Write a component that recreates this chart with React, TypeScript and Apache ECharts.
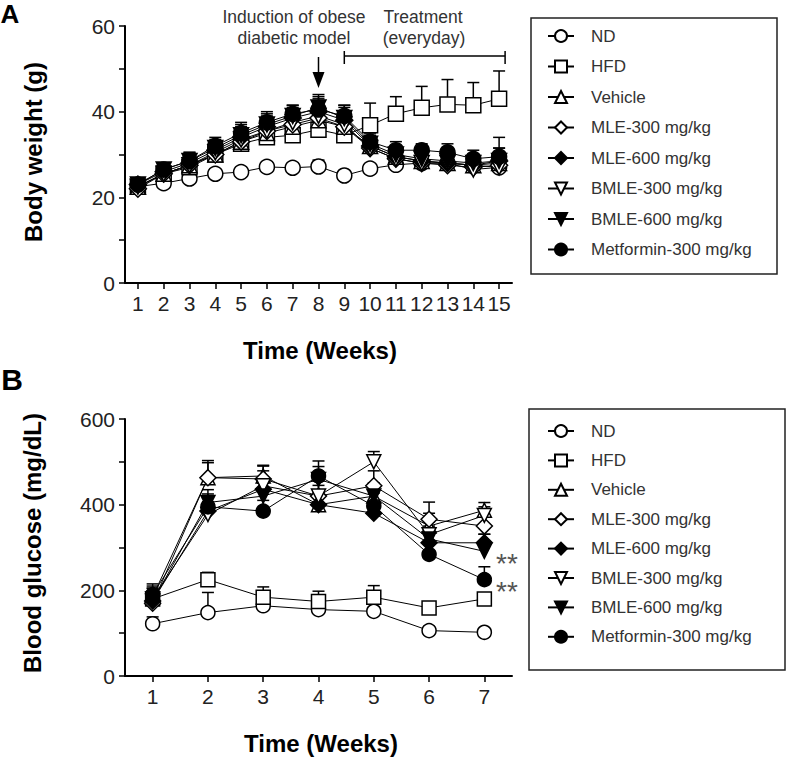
import React, { useEffect, useRef } from 'react';
import * as echarts from 'echarts';

// ---------- Data ----------
const weeksA = ['1', '2', '3', '4', '5', '6', '7', '8', '9', '10', '11', '12', '13', '14', '15'];
const weeksB = ['1', '2', '3', '4', '5', '6', '7'];
const groupNames = ['ND', 'HFD', 'Vehicle', 'MLE-300 mg/kg', 'MLE-600 mg/kg', 'BMLE-300 mg/kg', 'BMLE-600 mg/kg', 'Metformin-300 mg/kg'];

// Panel A: body weight (g), mean and SD
const bwND = [22.5, 23.3, 24.4, 25.5, 25.9, 27.1, 26.9, 27.2, 25.1, 26.7, 27.6, 28, 28, 27.5, 27];
const bwNDsd = [1, 1, 1, 1, 1, 1, 1, 1.5, 1, 1, 1, 1, 1, 1, 1.5];
const bwHFD = [22.5, 25.5, 27, 30, 32.5, 34, 34.5, 35.8, 34.5, 36.8, 39.5, 40.9, 41.7, 41.5, 43];
const bwHFDsd = [1, 1.5, 2, 2.5, 3, 4, 3.5, 3.5, 3.5, 5.2, 4, 5, 5.8, 5.3, 6.5];
const bwVeh = [22.5, 25.5, 27.5, 30, 33, 35, 36.5, 38, 36.5, 32, 29.5, 28.5, 28, 27.5, 28];
const bwVehsd = [1, 1.5, 2, 2, 2.5, 3, 2.5, 3, 3, 2, 2, 2, 2, 2, 2.5];
const bwMLE300 = [22, 25.5, 27.5, 30, 33, 35.5, 37, 38.5, 36.5, 31.5, 29, 28, 27.5, 27, 27.5];
const bwMLE300sd = [1, 1.5, 2, 2, 2.5, 3, 2.5, 3, 3, 2, 2, 2, 2, 2, 2.5];
const bwMLE600 = [23, 26, 28, 31, 34, 36.5, 38.5, 40, 38, 32, 29.5, 28.5, 28, 27.5, 28.5];
const bwMLE600sd = [1, 1.5, 2, 2, 2.5, 2.5, 2.5, 3, 3, 2, 2, 2, 2, 2, 3];
const bwBMLE300 = [22.5, 25.5, 27.5, 30.5, 33.5, 35.5, 37.5, 39, 37, 31.5, 29, 28, 28, 26.5, 27];
const bwBMLE300sd = [1, 1.5, 2, 2, 2.5, 3, 2.5, 3, 3, 2, 2, 2, 2, 2, 2.5];
const bwBMLE600 = [23, 26.5, 28.5, 31.5, 34.5, 37, 39, 41, 38.5, 32.5, 30, 29, 28.5, 28, 28.5];
const bwBMLE600sd = [1, 1.5, 2, 2, 2.5, 2.5, 2.5, 3, 3, 2, 2, 2, 2, 2, 3];
const bwMet = [23, 26.5, 28.5, 32, 35, 37.5, 39.5, 40.5, 39, 33, 31, 31, 30.5, 29, 29.5];
const bwMetsd = [1, 1.5, 2, 2, 2.5, 2.5, 2, 3, 2.5, 2, 2, 1.5, 2, 2, 4.5];

// Panel B: blood glucose (mg/dL), mean and SD
const bgND = [122, 148, 164, 155, 151, 106, 102];
const bgNDsd = [16, 47, 10, 10, 10, 10, 5];
const bgHFD = [180, 225, 184, 174, 184, 159, 180];
const bgHFDsd = [25, 17, 24, 24, 27, 12, 10];
const bgVeh = [185, 463, 467, 400, 420, 350, 387];
const bgVehsd = [30, 35, 25, 30, 30, 30, 18];
const bgMLE300 = [170, 463, 460, 420, 444, 366, 350];
const bgMLE300sd = [25, 40, 30, 25, 35, 40, 25];
const bgMLE600 = [175, 385, 436, 400, 380, 311, 311];
const bgMLE600sd = [20, 30, 25, 30, 30, 30, 20];
const bgBMLE300 = [180, 377, 444, 420, 500, 330, 375];
const bgBMLE300sd = [25, 30, 35, 35, 24, 30, 20];
const bgBMLE600 = [175, 405, 420, 459, 420, 320, 291];
const bgBMLE600sd = [20, 30, 30, 30, 30, 30, 40];
const bgMet = [190, 395, 385, 467, 397, 284, 225];
const bgMetsd = [20, 30, 25, 35, 30, 30, 30];

const yTicksA = [0, 20, 40, 60];
const yTicksB = [0, 200, 400, 600];
const starLabel = '**';
const starredB = ['BMLE-600 mg/kg', 'Metformin-300 mg/kg'];

const meansA = [bwND, bwHFD, bwVeh, bwMLE300, bwMLE600, bwBMLE300, bwBMLE600, bwMet];
const sdsA = [bwNDsd, bwHFDsd, bwVehsd, bwMLE300sd, bwMLE600sd, bwBMLE300sd, bwBMLE600sd, bwMetsd];
const meansB = [bgND, bgHFD, bgVeh, bgMLE300, bgMLE600, bgBMLE300, bgBMLE600, bgMet];
const sdsB = [bgNDsd, bgHFDsd, bgVehsd, bgMLE300sd, bgMLE600sd, bgBMLE300sd, bgBMLE600sd, bgMetsd];

// ---------- Styles ----------
const FONT = '"Liberation Sans", Arial, sans-serif';
const markerStyles = [
  { symbol: 'circle', fill: '#fff', rotate: 0 },
  { symbol: 'rect', fill: '#fff', rotate: 0 },
  { symbol: 'triangle', fill: '#fff', rotate: 0 },
  { symbol: 'diamond', fill: '#fff', rotate: 0 },
  { symbol: 'diamond', fill: '#000', rotate: 0 },
  { symbol: 'triangle', fill: '#fff', rotate: 180 },
  { symbol: 'triangle', fill: '#000', rotate: 180 },
  { symbol: 'circle', fill: '#000', rotate: 0 },
];

function errRender(params: any, api: any) {
  const x = api.value(0);
  const m = api.value(1);
  const sd = api.value(2);
  const p0 = api.coord([x, m]);
  const p1 = api.coord([x, m + sd]);
  const hw = 6;
  const st = { stroke: '#000', lineWidth: 1.5 };
  return {
    type: 'group',
    children: [
      { type: 'line', shape: { x1: p0[0], y1: p0[1], x2: p1[0], y2: p1[1] }, style: st },
      { type: 'line', shape: { x1: p1[0] - hw, y1: p1[1], x2: p1[0] + hw, y2: p1[1] }, style: st },
    ],
  };
}

function buildSeries(panel: number, means: number[][], sds: number[][], size: number) {
  const out: any[] = [];
  means.forEach((m, i) => {
    out.push({
      type: 'custom',
      xAxisIndex: panel,
      yAxisIndex: panel,
      renderItem: errRender,
      data: m.map((v, j) => [j, v, sds[i][j]]),
      encode: { x: 0, y: 1 },
      z: 1,
      silent: true,
    });
  });
  means.forEach((m, i) => {
    const ms = markerStyles[i];
    const name = groupNames[i];
    const starred = panel === 1 && starredB.indexOf(name) >= 0;
    out.push({
      type: 'line',
      name,
      xAxisIndex: panel,
      yAxisIndex: panel,
      data: m.map((v, j) =>
        starred && j === m.length - 1
          ? {
              value: v,
              label: {
                show: true,
                formatter: starLabel,
                position: 'right',
                distance: 4,
                offset: [0, 12],
                fontSize: 28,
                color: '#555',
                fontFamily: FONT,
              },
            }
          : v
      ),
      symbol: ms.symbol,
      symbolRotate: ms.rotate,
      symbolSize: ms.symbol === 'diamond' ? size + 2 : size,
      showAllSymbol: true,
      z: 2,
      lineStyle: { color: '#000', width: 1 },
      itemStyle: { color: ms.fill, borderColor: '#000', borderWidth: 1.5 },
      emphasis: { disabled: true },
    });
  });
  return out;
}

function xAxisOf(grid: number, data: string[]) {
  return {
    type: 'category',
    gridIndex: grid,
    data,
    boundaryGap: true,
    axisLine: { show: true, lineStyle: { color: '#000', width: 2 } },
    axisTick: { show: true, alignWithLabel: true, interval: 0, length: 6, lineStyle: { color: '#000', width: 1.5 } },
    axisLabel: { interval: 0, fontSize: 21, color: '#222', margin: 10, fontFamily: FONT },
    splitLine: { show: false },
  };
}

function yAxisOf(grid: number, max: number, step: number, labels: number[]) {
  return {
    type: 'value',
    gridIndex: grid,
    min: 0,
    max,
    interval: step,
    axisLine: { show: true, onZero: false, lineStyle: { color: '#000', width: 2 } },
    axisTick: { show: true, length: 6, lineStyle: { color: '#000', width: 1.5 } },
    axisLabel: {
      fontSize: 21,
      color: '#222',
      margin: 10,
      fontFamily: FONT,
      formatter: (v: number) => (labels.indexOf(v) >= 0 ? String(v) : ''),
    },
    splitLine: { show: false },
  };
}

function legendOf(top: number, gap: number) {
  return {
    orient: 'vertical',
    left: 547,
    top,
    padding: 0,
    itemWidth: 26,
    itemHeight: 15,
    itemGap: gap,
    data: groupNames,
    selectedMode: false,
    textStyle: { fontSize: 17, color: '#333', fontFamily: FONT, lineHeight: 20, padding: [0, 0, 0, 12] },
  };
}

export default function App() {
  const ref = useRef<HTMLDivElement>(null);
  useEffect(() => {
    if (!ref.current) return;
    const chart = echarts.init(ref.current, undefined, { renderer: 'svg' });
    chart.setOption({
      animation: false,
      backgroundColor: '#fff',
      grid: [
        { left: 125, top: 26, width: 387, height: 257 },
        { left: 125, top: 419, width: 387, height: 257 },
      ],
      xAxis: [xAxisOf(0, weeksA), xAxisOf(1, weeksB)],
      yAxis: [yAxisOf(0, 60, 10, yTicksA), yAxisOf(1, 600, 100, yTicksB)],
      legend: [legendOf(26, 10.5), legendOf(421, 9.4)],
      series: [...buildSeries(0, meansA, sdsA, 15), ...buildSeries(1, meansB, sdsB, 14)],
    });

    const wk8 = chart.convertToPixel({ xAxisIndex: 0, yAxisIndex: 0 }, [7, 0]) as number[];
    const wk9 = chart.convertToPixel({ xAxisIndex: 0, yAxisIndex: 0 }, [8, 0]) as number[];
    const wk15 = chart.convertToPixel({ xAxisIndex: 0, yAxisIndex: 0 }, [14, 0]) as number[];
    const ax = wk8[0];
    const bx0 = wk9[0];
    const bx1 = wk15[0] + 6;
    const lineSt = { stroke: '#000', lineWidth: 1.5 };
    const titleFont = 'bold 24px ' + FONT;
    const annFont = '17.5px ' + FONT;

    chart.setOption({
      graphic: [
        { type: 'text', x: 10, y: 1, style: { text: 'A', font: 'bold 26px ' + FONT, fill: '#000', align: 'center', verticalAlign: 'top' } },
        { type: 'text', x: 12, y: 379, style: { text: 'B', font: 'bold 30px ' + FONT, fill: '#000', align: 'center', verticalAlign: 'middle' } },
        { type: 'text', x: 33, y: 152, rotation: Math.PI / 2, style: { text: 'Body weight (g)', font: titleFont, fill: '#000', align: 'center', verticalAlign: 'middle' } },
        { type: 'text', x: 32, y: 543, rotation: Math.PI / 2, style: { text: 'Blood glucose (mg/dL)', font: titleFont, fill: '#000', align: 'center', verticalAlign: 'middle' } },
        { type: 'text', x: 320, y: 350, style: { text: 'Time (Weeks)', font: titleFont, fill: '#000', align: 'center', verticalAlign: 'middle' } },
        { type: 'text', x: 321, y: 743, style: { text: 'Time (Weeks)', font: titleFont, fill: '#000', align: 'center', verticalAlign: 'middle' } },
        { type: 'text', x: 294, y: 17, style: { text: 'Induction of obese', font: annFont, fill: '#333', align: 'center', verticalAlign: 'middle' } },
        { type: 'text', x: 294, y: 38, style: { text: 'diabetic model', font: annFont, fill: '#333', align: 'center', verticalAlign: 'middle' } },
        { type: 'text', x: 423, y: 17, style: { text: 'Treatment', font: annFont, fill: '#333', align: 'center', verticalAlign: 'middle' } },
        { type: 'text', x: 424, y: 38, style: { text: '(everyday)', font: annFont, fill: '#333', align: 'center', verticalAlign: 'middle' } },
        { type: 'line', shape: { x1: ax, y1: 57, x2: ax, y2: 74 }, style: lineSt },
        { type: 'polygon', shape: { points: [[ax - 6, 72], [ax + 6, 72], [ax, 88]] }, style: { fill: '#000' } },
        { type: 'line', shape: { x1: bx0, y1: 56, x2: bx1, y2: 56 }, style: lineSt },
        { type: 'line', shape: { x1: bx0, y1: 51, x2: bx0, y2: 64 }, style: lineSt },
        { type: 'line', shape: { x1: bx1, y1: 51, x2: bx1, y2: 64 }, style: lineSt },
        { type: 'rect', shape: { x: 531, y: 18, width: 246, height: 256 }, style: { fill: 'none', stroke: '#222', lineWidth: 1.5 } },
        { type: 'rect', shape: { x: 529, y: 409, width: 256, height: 261 }, style: { fill: 'none', stroke: '#222', lineWidth: 1.5 } },
      ],
    });

    return () => chart.dispose();
  }, []);
  return <div ref={ref} style={{ position: 'fixed', left: 0, top: 0, width: 787, height: 757 }} />;
}
